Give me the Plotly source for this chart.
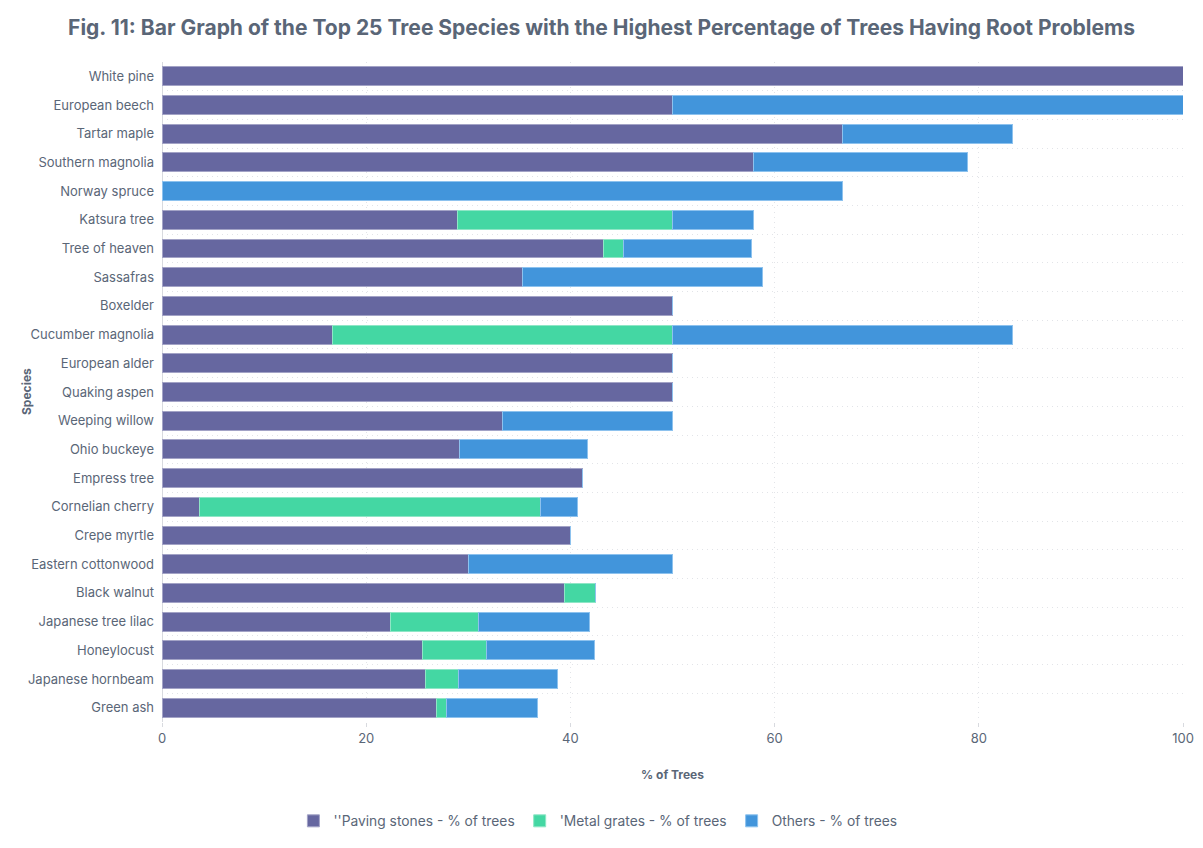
import plotly.graph_objects as go

species = ["White pine", "European beech", "Tartar maple", "Southern magnolia", "Norway spruce",
           "Katsura tree", "Tree of heaven", "Sassafras", "Boxelder", "Cucumber magnolia",
           "European alder", "Quaking aspen", "Weeping willow", "Ohio buckeye", "Empress tree",
           "Cornelian cherry", "Crepe myrtle", "Eastern cottonwood", "Black walnut",
           "Japanese tree lilac", "Honeylocust", "Japanese hornbeam", "Green ash"]

paving = [100, 50, 66.67, 57.89, 0,
          28.95, 43.2, 35.29, 50, 16.67,
          50, 50, 33.33, 29.17, 41.18,
          3.7, 40, 30, 39.39,
          22.4, 25.5, 25.81, 26.9]
metal = [0, 0, 0, 0, 0,
         21.05, 2.0, 0, 0, 33.33,
         0, 0, 0, 0, 0,
         33.33, 0, 0, 3.03,
         8.6, 6.3, 3.23, 1.0]
others = [0, 50, 16.67, 21.05, 66.67,
          7.9, 12.5, 23.53, 0, 33.33,
          0, 0, 16.67, 12.5, 0,
          3.7, 0, 20, 0,
          10.9, 10.6, 9.68, 8.9]

names = ["''Paving stones - % of trees", "'Metal grates - % of trees", "Others - % of trees"]
colors = ["#6667a0", "#44d7a3", "#4295db"]
borders = ["#a3a3c6", "#8fe6c6", "#8dc2ee"]

text_color = "#5a6677"
font_family = "Inter, Lato, 'Open Sans', sans-serif"

fig = go.Figure()
for vals, name, c, b in zip([paving, metal, others], names, colors, borders):
    fig.add_trace(go.Bar(
        y=species, x=vals, name=name, orientation="h",
        marker=dict(color=c, line=dict(color=b, width=1)),
    ))

fig.add_annotation(text="<b>Species</b>", textangle=-90, xref="paper", yref="paper",
                   x=-0.1332, y=0.5, xanchor="center", yanchor="middle", showarrow=False,
                   font=dict(size=12, color=text_color, family=font_family))

fig.update_layout(
    barmode="stack",
    bargap=0.34,
    width=1203, height=848,
    paper_bgcolor="white", plot_bgcolor="white",
    margin=dict(l=162, r=20, t=62, b=126, autoexpand=False),
    font=dict(family=font_family, color=text_color, size=13),
    title=dict(text="<b>Fig. 11: Bar Graph of the Top 25 Tree Species with the Highest Percentage of Trees Having Root Problems</b>",
               x=0.5, xanchor="center", xref="container", y=0.967, yanchor="middle", yref="container",
               font=dict(size=21, color=text_color, family=font_family)),
    legend=dict(orientation="h", x=0.497, xanchor="center", xref="container",
                y=0.032, yanchor="middle", yref="container",
                font=dict(size=13.8, color=text_color), traceorder="normal"),
    xaxis=dict(range=[0, 100], dtick=20, showgrid=True, gridcolor="#e2e4e8", griddash="1px,4px",
               gridwidth=1, zeroline=True, zerolinecolor="#d8dadf", zerolinewidth=1,
               ticks="outside", ticklen=4, tickcolor="#d8dadf", showline=False,
               automargin=False,
               tickfont=dict(size=13, color=text_color),
               title=dict(text="<b>% of Trees</b>", font=dict(size=12, color=text_color), standoff=26)),
    yaxis=dict(autorange="reversed", showgrid=True, gridcolor="#e2e4e8", griddash="1px,4px",
               tickson="boundaries", ticks="", ticklen=0, showline=False,
               automargin=False, ticklabelstandoff=7,
               tickfont=dict(size=13, color=text_color)),
)

fig.write_html("out.html", config={"displayModeBar": False},
               post_script="document.body.style.margin='0';document.body.style.padding='0';")
